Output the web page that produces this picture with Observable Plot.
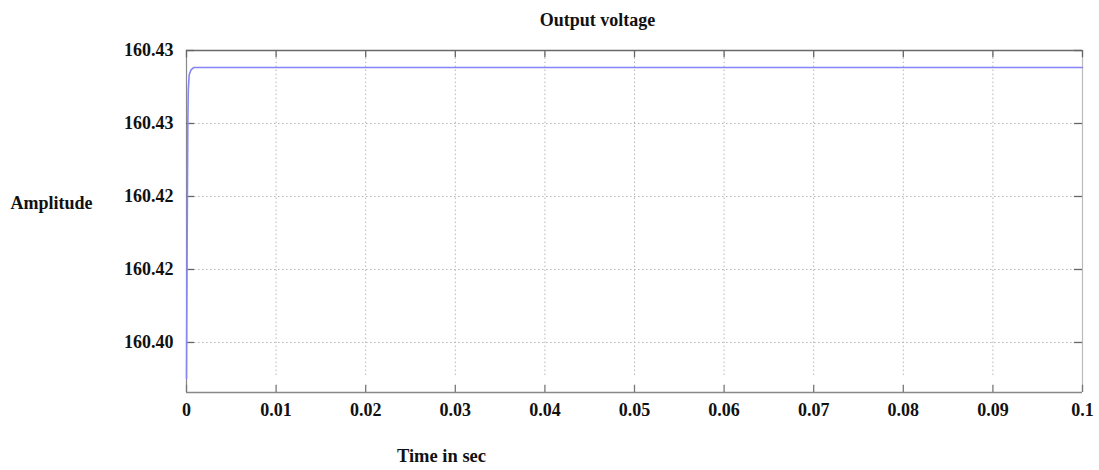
<!DOCTYPE html>
<html><head><meta charset="utf-8">
<script src="https://cdn.jsdelivr.net/npm/d3@7"></script>
<script src="https://cdn.jsdelivr.net/npm/@observablehq/plot@0.6"></script>
<style>body{margin:0;background:#fff;} svg{display:block;}</style>
</head><body><div id="chart"></div>
<script>
// Data
const timeValues = [0, 0.00005, 0.0001, 0.00015, 0.0002, 0.0003, 0.0005, 0.0008, 0.01, 0.02, 0.03, 0.04, 0.05, 0.06, 0.07, 0.08, 0.09, 0.1];
const voltageValues = [160.3963, 160.4064, 160.4149, 160.4228, 160.4259, 160.4275, 160.4280, 160.42825, 160.42825, 160.42825, 160.42825, 160.42825, 160.42825, 160.42825, 160.42825, 160.42825, 160.42825, 160.42825];
const xTickValues = [0, 0.01, 0.02, 0.03, 0.04, 0.05, 0.06, 0.07, 0.08, 0.09, 0.1];
const xTickLabels = ["0", "0.01", "0.02", "0.03", "0.04", "0.05", "0.06", "0.07", "0.08", "0.09", "0.1"];
const yTickValues = [160.400, 160.4075, 160.415, 160.4225, 160.430];
const yTickLabels = ["160.40", "160.42", "160.42", "160.43", "160.43"];

const data = timeValues.map((t, i) => ({t, v: voltageValues[i]}));
const yMin = 160.39486, yMax = 160.430;
const gridBottom = 160.3966;
const tickLenY = 0.00075;   // ~7px in y units
const tickLenX = 0.0009;    // ~8px in x units
const font = "Liberation Serif, Times New Roman, serif";

const chart = Plot.plot({
  width: 1099, height: 470,
  marginLeft: 186, marginRight: 17, marginTop: 50, marginBottom: 78,
  style: {fontFamily: font, background: "#fff"},
  x: {domain: [0, 0.1]},
  y: {domain: [yMin, yMax]},
  marks: [
    // grid
    Plot.ruleX(xTickValues.slice(1, -1), {x: d => d, y1: gridBottom, y2: yMax, stroke: "#b5b5b5", strokeDasharray: "1.5,2.5", strokeWidth: 1}),
    Plot.ruleY(yTickValues.slice(0, -1), {y: d => d, x1: 0, x2: 0.1, stroke: "#b5b5b5", strokeDasharray: "1.5,2.5", strokeWidth: 1}),
    // frame
    Plot.ruleY([yMax], {x1: 0, x2: 0.1, stroke: "#6a6a6a", strokeWidth: 1.4}),
    Plot.ruleX([0.1], {y1: yMin, y2: yMax, stroke: "#bbb", strokeWidth: 1.2}),
    Plot.ruleX([0], {y1: yMin, y2: yMax, stroke: "#888", strokeWidth: 1.2}),
    Plot.ruleY([yMin], {x1: 0, x2: 0.1, stroke: "#888", strokeWidth: 1.6}),
    // tick marks
    Plot.ruleX(xTickValues, {x: d => d, y1: yMin, y2: yMin + tickLenY, stroke: "#777", strokeWidth: 1.3}),
    Plot.ruleX(xTickValues, {x: d => d, y1: yMax, y2: yMax - tickLenY, stroke: "#666", strokeWidth: 1.3}),
    Plot.ruleY(yTickValues, {y: d => d, x1: 0, x2: tickLenX, stroke: "#666", strokeWidth: 1.3}),
    Plot.ruleY(yTickValues, {y: d => d, x1: 0.1, x2: 0.1 - tickLenX, stroke: "#666", strokeWidth: 1.3}),
    // axes labels
    Plot.axisX({ticks: xTickValues, tickFormat: (d, i) => xTickLabels[i], tickSize: 0, tickPadding: 11, fontSize: 18, fontWeight: "bold", fill: "#111", label: null}),
    Plot.axisY({ticks: yTickValues, tickFormat: (d, i) => yTickLabels[i], tickSize: 0, tickPadding: 13, fontSize: 18, fontWeight: "bold", fill: "#111", label: null}),
    // signal
    Plot.line(data, {x: "t", y: "v", stroke: "#8585f8", strokeWidth: 1.6}),
    // texts
    Plot.text(["Output voltage"], {frameAnchor: "top", dx: -37, dy: -37, fontSize: 18, fontWeight: "bold", fill: "#111"}),
    Plot.text(["Amplitude"], {frameAnchor: "left", dx: -176, dy: -18, textAnchor: "start", fontSize: 18, fontWeight: "bold", fill: "#111"}),
    Plot.text(["Time in sec"], {frameAnchor: "bottom", dx: -193, dy: 69, fontSize: 18.5, fontWeight: "bold", fill: "#111"})
  ]
});
document.getElementById("chart").appendChild(chart);
</script></body></html>
